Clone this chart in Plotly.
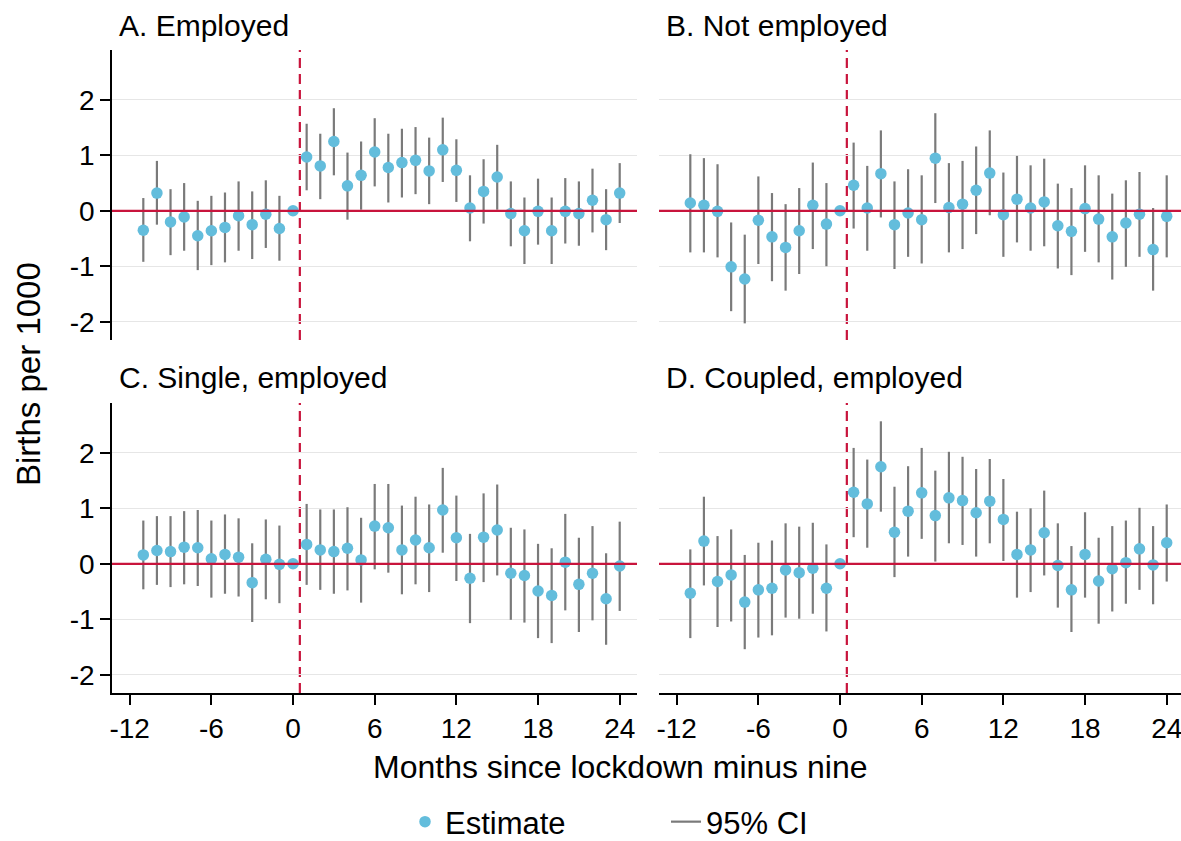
import plotly.graph_objects as go

# Event-time months (month 0 is the omitted reference period)
months = list(range(-11, 25))

# A. Employed
est_a = [-0.35, 0.32, -0.20, -0.11, -0.45, -0.36, -0.30, -0.09, -0.25, -0.06, -0.32, 0.0,
         0.97, 0.81, 1.25, 0.45, 0.64, 1.06, 0.78, 0.87, 0.91, 0.72, 1.10, 0.73,
         0.05, 0.35, 0.61, -0.05, -0.36, -0.01, -0.36, -0.01, -0.05, 0.19, -0.16, 0.32]
hi_a = [0.23, 0.90, 0.39, 0.50, 0.18, 0.27, 0.33, 0.53, 0.35, 0.55, 0.27, None,
        1.57, 1.39, 1.85, 1.05, 1.25, 1.67, 1.39, 1.48, 1.51, 1.32, 1.68, 1.29,
        0.64, 0.93, 1.19, 0.53, 0.24, 0.58, 0.24, 0.59, 0.53, 0.76, 0.39, 0.86]
lo_a = [-0.92, -0.25, -0.80, -0.72, -1.07, -0.98, -0.93, -0.72, -0.87, -0.67, -0.90, None,
        0.37, 0.21, 0.64, -0.16, 0.02, 0.44, 0.15, 0.24, 0.30, 0.12, 0.52, 0.16,
        -0.55, -0.23, 0.02, -0.64, -0.96, -0.61, -0.96, -0.59, -0.63, -0.39, -0.71, -0.22]

# B. Not employed
est_b = [0.14, 0.10, -0.01, -1.01, -1.23, -0.17, -0.47, -0.66, -0.36, 0.10, -0.24, 0.0,
         0.46, 0.05, 0.67, -0.25, -0.04, -0.16, 0.95, 0.06, 0.12, 0.37, 0.68, -0.07,
         0.21, 0.05, 0.16, -0.27, -0.37, 0.04, -0.15, -0.47, -0.22, -0.06, -0.70, -0.10]
hi_b = [1.02, 0.95, 0.84, -0.21, -0.43, 0.62, 0.32, 0.12, 0.41, 0.87, 0.50, None,
        1.23, 0.81, 1.45, 0.53, 0.75, 0.64, 1.76, 0.86, 0.90, 1.16, 1.45, 0.69,
        0.99, 0.82, 0.94, 0.49, 0.41, 0.82, 0.64, 0.31, 0.55, 0.70, 0.05, 0.64]
lo_b = [-0.75, -0.75, -0.84, -1.81, -2.03, -0.96, -1.27, -1.44, -1.14, -0.69, -1.00, None,
        -0.32, -0.72, -0.12, -1.05, -0.83, -0.95, 0.14, -0.75, -0.69, -0.42, -0.08, -0.83,
        -0.57, -0.72, -0.64, -1.04, -1.16, -0.74, -0.93, -1.24, -1.01, -0.83, -1.44, -0.84]

# C. Single, employed
est_c = [0.16, 0.24, 0.22, 0.30, 0.29, 0.09, 0.17, 0.12, -0.34, 0.08, -0.01, 0.0,
         0.35, 0.25, 0.22, 0.28, 0.07, 0.68, 0.65, 0.25, 0.43, 0.29, 0.97, 0.47,
         -0.26, 0.48, 0.61, -0.17, -0.21, -0.49, -0.57, 0.03, -0.37, -0.17, -0.63, -0.04]
hi_c = [0.78, 0.86, 0.86, 0.95, 0.97, 0.78, 0.89, 0.82, 0.37, 0.80, 0.69, None,
        1.08, 0.98, 0.98, 1.02, 0.83, 1.44, 1.44, 1.05, 1.21, 1.07, 1.73, 1.23,
        0.54, 1.27, 1.43, 0.65, 0.62, 0.36, 0.28, 0.90, 0.47, 0.68, 0.19, 0.76]
lo_c = [-0.46, -0.38, -0.42, -0.37, -0.40, -0.61, -0.54, -0.59, -1.05, -0.64, -0.71, None,
        -0.38, -0.47, -0.54, -0.48, -0.70, -0.10, -0.16, -0.55, -0.37, -0.51, 0.20, -0.31,
        -1.07, -0.33, -0.21, -1.01, -1.06, -1.34, -1.43, -0.84, -1.23, -1.02, -1.46, -0.85]

# D. Coupled, employed
est_d = [-0.53, 0.41, -0.32, -0.20, -0.69, -0.47, -0.44, -0.11, -0.16, -0.08, -0.44, 0.0,
         1.29, 1.08, 1.75, 0.57, 0.95, 1.28, 0.87, 1.19, 1.14, 0.92, 1.13, 0.80,
         0.17, 0.25, 0.56, -0.03, -0.47, 0.17, -0.31, -0.09, 0.02, 0.27, -0.02, 0.38]
hi_d = [0.26, 1.21, 0.50, 0.62, 0.16, 0.38, 0.42, 0.73, 0.67, 0.74, 0.35, None,
        2.09, 1.88, 2.57, 1.39, 1.76, 2.09, 1.68, 2.02, 1.93, 1.71, 1.89, 1.53,
        0.94, 1.00, 1.32, 0.73, 0.32, 0.93, 0.47, 0.68, 0.78, 1.01, 0.68, 1.07]
lo_d = [-1.34, -0.39, -1.14, -1.04, -1.54, -1.33, -1.29, -0.97, -0.99, -0.90, -1.22, None,
        0.48, 0.29, 0.94, -0.24, 0.13, 0.45, 0.04, 0.37, 0.34, 0.13, 0.37, 0.05,
        -0.61, -0.51, -0.21, -0.79, -1.23, -0.61, -1.08, -0.86, -0.72, -0.47, -0.73, -0.32]

panel_titles = ["A. Employed", "B. Not employed", "C. Single, employed", "D. Coupled, employed"]
x_ticks = [-12, -6, 0, 6, 12, 18, 24]
x_ticklabels = ["-12", "-6", "0", "6", "12", "18", "24"]
y_ticks = [-2, -1, 0, 1, 2]
y_ticklabels = ["-2", "-1", "0", "1", "2"]

FONT = "Liberation Sans, Arial, sans-serif"
DOT = "#63BDDC"
CI_GREY = "#7A7A7A"
RED = "#C8143C"
GRID = "#E6E6E6"

W, H = 1181, 841
x_dom = [[112 / W, 637 / W], [659 / W, 1.0], [112 / W, 637 / W], [659 / W, 1.0]]
y_dom = [[1 - 340 / H, 1 - 50 / H], [1 - 340 / H, 1 - 50 / H],
         [1 - 693 / H, 1 - 403 / H], [1 - 693 / H, 1 - 403 / H]]
x_rng = [[-13.3, 25.27], [-13.3, 25.05], [-13.3, 25.27], [-13.3, 25.05]]
y_rng = [-2.33, 2.9]

panels = [(est_a, lo_a, hi_a), (est_b, lo_b, hi_b), (est_c, lo_c, hi_c), (est_d, lo_d, hi_d)]

fig = go.Figure()
shapes = []
annotations = []
layout = {}

for i, (est, lo, hi) in enumerate(panels):
    n = i + 1
    xa = "x" if n == 1 else f"x{n}"
    ya = "y" if n == 1 else f"y{n}"

    # confidence-interval whiskers as vertical segments
    cx, cy = [], []
    for m, l, h in zip(months, lo, hi):
        if l is None or h is None:
            continue
        cx += [m, m, None]
        cy += [l, h, None]
    fig.add_trace(go.Scatter(x=cx, y=cy, mode="lines", xaxis=xa, yaxis=ya,
                             line=dict(color=CI_GREY, width=2.2), name="95% CI",
                             legendgroup="ci", showlegend=False, hoverinfo="skip"))
    fig.add_trace(go.Scatter(x=months, y=est, mode="markers", xaxis=xa, yaxis=ya,
                             marker=dict(color=DOT, size=11.5, line=dict(width=0)),
                             name="Estimate", legendgroup="est", showlegend=False))

    bottom = n in (3, 4)
    left = n in (1, 3)
    layout["xaxis" if n == 1 else f"xaxis{n}"] = dict(
        domain=x_dom[i], range=x_rng[i], anchor=ya,
        showgrid=False, zeroline=False,
        showline=bottom, linecolor="black", linewidth=1.5,
        tickmode="array", tickvals=x_ticks, ticktext=x_ticklabels,
        showticklabels=bottom, ticks="outside" if bottom else "",
        ticklen=10, tickwidth=1.5, tickcolor="black", ticklabeloverflow="allow",
        tickfont=dict(size=28, color="black", family=FONT),
    )
    layout["yaxis" if n == 1 else f"yaxis{n}"] = dict(
        domain=y_dom[i], range=y_rng, anchor=xa,
        showgrid=True, gridcolor=GRID, gridwidth=1.2, zeroline=False,
        showline=left, linecolor="black", linewidth=1.5,
        tickmode="array", tickvals=y_ticks, ticktext=y_ticklabels,
        showticklabels=left, ticks="outside" if left else "",
        ticklen=10, tickwidth=1.5, tickcolor="black",
        tickfont=dict(size=28, color="black", family=FONT),
    )

    # reference lines: zero effect and lockdown cut-off
    shapes.append(dict(type="line", xref=f"{xa} domain", yref=ya, x0=0, x1=1, y0=0, y1=0,
                       line=dict(color=RED, width=2.2), layer="above"))
    shapes.append(dict(type="line", xref=xa, yref=f"{ya} domain", x0=0.5, x1=0.5, y0=0, y1=1,
                       line=dict(color=RED, width=2.2, dash="10px,6px"), layer="below"))

    annotations.append(dict(text=panel_titles[i], xref="paper", yref="paper",
                            x=x_dom[i][0] + 5 / W, y=y_dom[i][1] + 25 / H,
                            xanchor="left", yanchor="middle", showarrow=False,
                            font=dict(size=30, color="black", family=FONT)))

# legend entries
fig.add_trace(go.Scatter(x=[None], y=[None], mode="markers", name="Estimate",
                         marker=dict(color=DOT, size=11.5), legendgroup="est"))
fig.add_trace(go.Scatter(x=[None], y=[None], mode="lines", name="95% CI",
                         line=dict(color=CI_GREY, width=2.2), legendgroup="ci"))

annotations.append(dict(text="Births per 1000", xref="paper", yref="paper",
                        x=28 / W, y=1 - 374 / H, textangle=-90, showarrow=False,
                        xanchor="center", yanchor="middle",
                        font=dict(size=33, color="black", family=FONT)))
annotations.append(dict(text="Months since lockdown minus nine", xref="paper", yref="paper",
                        x=620 / W, y=1 - 767 / H, showarrow=False,
                        xanchor="center", yanchor="middle",
                        font=dict(size=32, color="black", family=FONT)))

fig.update_layout(
    width=W, height=H,
    margin=dict(l=0, r=0, t=0, b=0, autoexpand=False),
    paper_bgcolor="white", plot_bgcolor="white",
    font=dict(family=FONT, color="black"),
    shapes=shapes, annotations=annotations,
    showlegend=True,
    legend=dict(orientation="h", x=405 / W, y=1 - 822 / H, xanchor="left", yanchor="middle",
                font=dict(size=31, color="black", family=FONT),
                entrywidth=216, entrywidthmode="pixels", bgcolor="rgba(0,0,0,0)"),
    **layout,
)

fig.write_html("out.html")
